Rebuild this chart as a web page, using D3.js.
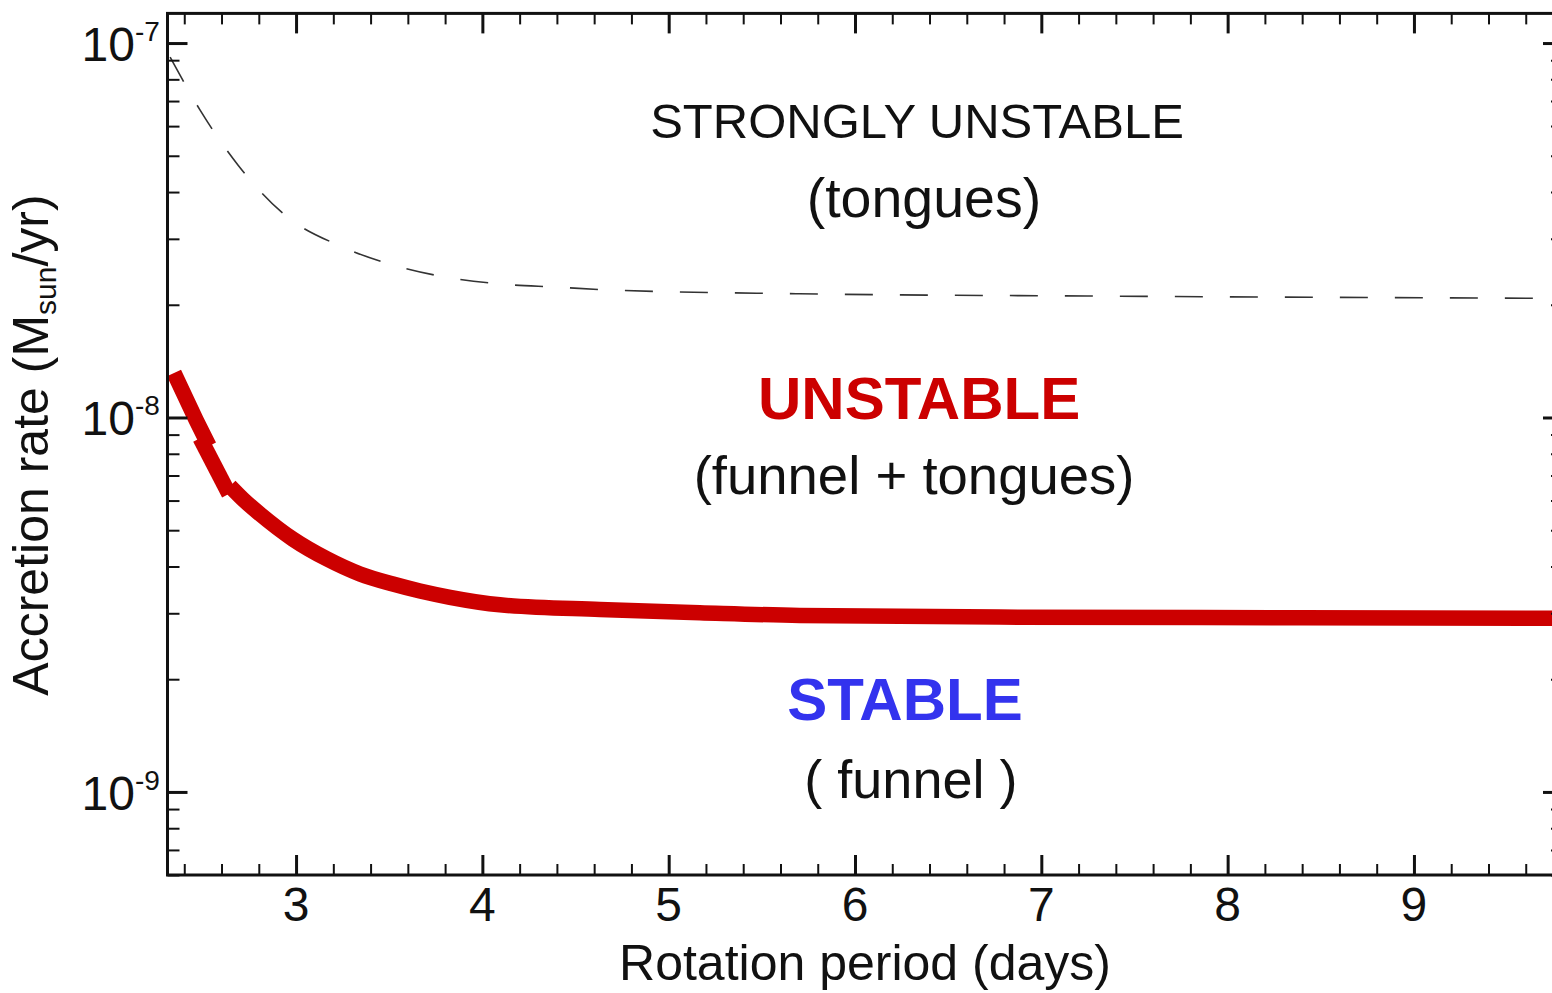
<!DOCTYPE html>
<html>
<head>
<meta charset="utf-8">
<script src="https://cdn.jsdelivr.net/npm/d3@7/dist/d3.min.js"></script>
<style>
  html, body { margin: 0; padding: 0; background: #fff; }
  svg { display: block; font-family: "Liberation Sans", Arial, Helvetica, sans-serif; }
</style>
</head>
<body>
<svg id="chart" width="1552" height="993"></svg>
<script>
// Rotation period (days) vs. accretion rate boundaries

// Boundary between "unstable" and "strongly unstable" regimes (dashed)
const strongBoundary = [
  [2.324, 9.17e-8], [2.485, 6.62e-8], [2.689, 4.72e-8], [2.941, 3.47e-8],
  [3.252, 2.85e-8], [3.536, 2.54e-8], [3.826, 2.36e-8], [4.11, 2.27e-8],
  [4.395, 2.23e-8], [4.685, 2.19e-8], [5.70, 2.14e-8], [7.31, 2.11e-8],
  [9.80, 2.08e-8]
];

// Stable / unstable boundary (thick red), drawn as three pieces
const stableBoundaryA = [[2.345, 1.315e-8], [2.4635, 9.85e-9], [2.533, 8.39e-9]];
const stableBoundaryB = [[2.485, 8.81e-9], [2.640, 6.25e-9]];
const stableBoundaryC = [
  [2.645, 6.56e-9], [2.726, 5.98e-9], [2.807, 5.52e-9], [2.984, 4.73e-9],
  [3.166, 4.19e-9], [3.343, 3.82e-9], [3.520, 3.59e-9], [3.665, 3.44e-9],
  [3.826, 3.31e-9], [4.094, 3.16e-9], [4.631, 3.07e-9], [5.167, 3.01e-9],
  [5.704, 2.96e-9], [6.777, 2.93e-9], [8.386, 2.92e-9], [9.80, 2.91e-9]
];

// Axis ticks
const xMajorTicks = [3, 4, 5, 6, 7, 8, 9];
const xMinorTicks = d3.range(24, 98, 2).map(d => d / 10).filter(d => !xMajorTicks.includes(d));
const yMajorTicks = [1e-9, 1e-8, 1e-7];
const yMajorExponents = ["-9", "-8", "-7"];
const yMinorTicks = [6e-10, 7e-10, 8e-10, 9e-10,
  2e-9, 3e-9, 4e-9, 5e-9, 6e-9, 7e-9, 8e-9, 9e-9,
  2e-8, 3e-8, 4e-8, 5e-8, 6e-8, 7e-8, 8e-8, 9e-8];

// Region annotations: [text, period, rate, size, weight, colour]
const regionLabels = [
  ["STRONGLY UNSTABLE", 6.333, 5.57e-8, 49, "normal", "#111"],
  ["(tongues)",         6.370, 3.43e-8, 55.5, "normal", "#111"],
  ["UNSTABLE",          6.344, 9.9e-9, 60, "bold",   "#cc0000"],
  ["(funnel + tongues)",6.317, 6.25e-9, 54.5, "normal", "#111"],
  ["STABLE",            6.268, 1.56e-9, 60, "bold",   "#3333ee"],
  ["( funnel )",        6.300, 9.65e-10, 54, "normal", "#111"]
];

const plotLeft = 167.5, plotRight = 1563, plotTop = 13.4, plotBottom = 875;

const x = d3.scaleLinear().domain([2.31, 9.8]).range([plotLeft, plotRight]);
const y = d3.scaleLog().domain([6e-10, 1.2e-7]).range([plotBottom, plotTop]);

const svg = d3.select("#chart");

// Curves
const line = d3.line().x(d => x(d[0])).y(d => y(d[1]));
const smooth = d3.line().x(d => x(d[0])).y(d => y(d[1])).curve(d3.curveMonotoneX);

svg.append("path")
  .attr("d", smooth(strongBoundary))
  .attr("fill", "none")
  .attr("stroke", "#333")
  .attr("stroke-width", 1.6)
  .attr("stroke-dasharray", "28,27");

[[stableBoundaryA, line], [stableBoundaryB, line], [stableBoundaryC, smooth]].forEach(([pts, gen]) => {
  svg.append("path")
    .attr("d", gen(pts))
    .attr("fill", "none")
    .attr("stroke", "#cc0000")
    .attr("stroke-width", 15.5)
    .attr("stroke-linecap", "butt")
    .attr("stroke-linejoin", "round");
});

// Ticks on all four sides, pointing inward
function tickAxis(axis, transform, values, size, width) {
  const g = svg.append("g")
    .attr("transform", transform)
    .call(axis.tickValues(values).tickSizeInner(-size).tickSizeOuter(0).tickFormat(""));
  g.select(".domain").remove();
  g.selectAll(".tick line").attr("stroke", "#111").attr("stroke-width", width);
}
tickAxis(d3.axisBottom(x), `translate(0,${plotBottom})`, xMinorTicks, 11, 2);
tickAxis(d3.axisBottom(x), `translate(0,${plotBottom})`, xMajorTicks, 20, 3);
tickAxis(d3.axisTop(x), `translate(0,${plotTop})`, xMinorTicks, 11, 2);
tickAxis(d3.axisTop(x), `translate(0,${plotTop})`, xMajorTicks, 20, 3);
tickAxis(d3.axisLeft(y), `translate(${plotLeft},0)`, yMinorTicks, 12, 2);
tickAxis(d3.axisLeft(y), `translate(${plotLeft},0)`, yMajorTicks, 20, 3);
tickAxis(d3.axisRight(y), `translate(${plotRight},0)`, yMinorTicks, 12, 2);
tickAxis(d3.axisRight(y), `translate(${plotRight},0)`, yMajorTicks, 20, 3);

// Frame
svg.append("rect")
  .attr("x", plotLeft).attr("y", plotTop)
  .attr("width", plotRight - plotLeft).attr("height", plotBottom - plotTop)
  .attr("fill", "none").attr("stroke", "#111").attr("stroke-width", 3);

// X tick labels
svg.append("g").selectAll("text")
  .data(xMajorTicks)
  .join("text")
  .attr("x", d => x(d))
  .attr("y", plotBottom + 46)
  .attr("text-anchor", "middle")
  .attr("font-size", 48)
  .attr("fill", "#111")
  .text(d => d);

// Y tick labels: 10 with superscript exponent
svg.append("g").selectAll("text")
  .data(yMajorTicks)
  .join("text")
  .attr("x", 135)
  .attr("y", d => y(d) + 18)
  .attr("text-anchor", "end")
  .attr("font-size", 48)
  .attr("fill", "#111")
  .text("10");
svg.append("g").selectAll("text")
  .data(yMajorTicks)
  .join("text")
  .attr("x", 135)
  .attr("y", d => y(d) - 2)
  .attr("font-size", 28)
  .attr("fill", "#111")
  .text((d, i) => yMajorExponents[i]);

// Axis titles
svg.append("text")
  .attr("x", 865)
  .attr("y", 980)
  .attr("text-anchor", "middle")
  .attr("font-size", 50)
  .attr("fill", "#111")
  .text("Rotation period (days)");

const yTitle = svg.append("text")
  .attr("transform", "translate(48,445) rotate(-90)")
  .attr("text-anchor", "middle")
  .attr("font-size", 50)
  .attr("fill", "#111");
yTitle.append("tspan").text("Accretion rate (M");
yTitle.append("tspan").attr("font-size", 30).attr("dy", 8).text("sun");
yTitle.append("tspan").attr("dy", -8).text("/yr)");

// Region annotations
svg.append("g").selectAll("text")
  .data(regionLabels)
  .join("text")
  .attr("x", d => x(d[1]))
  .attr("y", d => y(d[2]))
  .attr("text-anchor", "middle")
  .attr("font-size", d => d[3])
  .attr("font-weight", d => d[4])
  .attr("fill", d => d[5])
  .text(d => d[0]);
</script>
</body>
</html>
